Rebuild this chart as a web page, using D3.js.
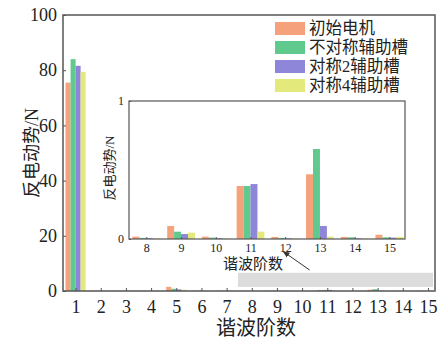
<!DOCTYPE html>
<html>
<head>
<meta charset="utf-8">
<script src="https://cdn.jsdelivr.net/npm/d3@7"></script>
<style>
  html, body { margin: 0; padding: 0; background: #fff; }
  svg { display: block; }
  text { font-family: "Liberation Serif", "Noto Sans CJK SC", serif; fill: #222; }
</style>
</head>
<body>
<script>
// Harmonic orders and back-EMF amplitude (N) per motor design
const harmonics = [1, 2, 3, 4, 5, 6, 7, 8, 9, 10, 11, 12, 13, 14, 15];
const seriesNames = ["初始电机", "不对称辅助槽", "对称2辅助槽", "对称4辅助槽"];
const seriesColors = ["#f5a27c", "#5fc98e", "#8e86d8", "#e4e97c"];
const initialMotor = [75.5, 0.10, 0.08, 0.10, 1.50, 0.10, 0.10, 0.017, 0.094, 0.017, 0.384, 0.015, 0.469, 0.015, 0.031];
const asymSlots    = [84.0, 0.05, 0.05, 0.05, 0.80, 0.05, 0.05, 0.008, 0.053, 0.010, 0.384, 0.008, 0.652, 0.012, 0.012];
const sym2Slots    = [81.6, 0.04, 0.04, 0.04, 0.60, 0.04, 0.04, 0.005, 0.036, 0.006, 0.398, 0.005, 0.094, 0.005, 0.010];
const sym4Slots    = [79.4, 0.03, 0.03, 0.03, 0.50, 0.03, 0.03, 0.004, 0.046, 0.004, 0.053, 0.003, 0.017, 0.004, 0.015];
const mainYTicks = [0, 20, 40, 60, 80, 100];
const insetHarmonics = [8, 9, 10, 11, 12, 13, 14, 15];
const insetYTicks = [0, 1];

const series = [initialMotor, asymSlots, sym2Slots, sym4Slots];
const W = 443, H = 343;
const svg = d3.select("body").append("svg").attr("width", W).attr("height", H);

const frameColor = "#555";
const barW = 0.2; // bar width in harmonic units

// ---------- main chart ----------
const mx = d3.scaleLinear().domain([0.5, 15.28]).range([63, 435]);
const my = d3.scaleLinear().domain([0, 100]).range([291, 15]);

// highlighted zoom region
svg.append("rect")
  .attr("x", mx(7.45)).attr("y", my(6.6))
  .attr("width", mx(15.2) - mx(7.45)).attr("height", my(1.5) - my(6.6))
  .attr("fill", "#dcdcdc");

const mainG = svg.append("g");
series.forEach((vals, si) => {
  mainG.selectAll(null).data(harmonics).enter().append("rect")
    .attr("x", (h) => mx(h - 0.4 + si * barW))
    .attr("width", mx(barW) - mx(0))
    .attr("y", (h, i) => my(vals[i]))
    .attr("height", (h, i) => my(0) - my(vals[i]))
    .attr("fill", seriesColors[si]);
});

// main axes
const xAxis = d3.axisBottom(mx).tickValues(harmonics).tickSize(-3).tickPadding(8).tickFormat(d3.format("d"));
const gx = svg.append("g").attr("transform", `translate(0,${my(0)})`).call(xAxis);
gx.selectAll("text").attr("font-size", 18).attr("dy", "0.75em");
const yAxis = d3.axisLeft(my).tickValues(mainYTicks).tickSize(-3).tickPadding(6).tickFormat(d3.format("d"));
const gy = svg.append("g").attr("transform", `translate(${mx.range()[0]},0)`).call(yAxis);
gy.selectAll("text").attr("font-size", 18);
[gx, gy].forEach(g => {
  g.select(".domain").remove();
  g.selectAll("line").attr("stroke", frameColor);
});
svg.append("rect")
  .attr("x", 63).attr("y", 15).attr("width", 435 - 63).attr("height", 291 - 15)
  .attr("fill", "none").attr("stroke", frameColor).attr("stroke-width", 1.5);

svg.append("text").attr("x", 256).attr("y", 335).attr("text-anchor", "middle")
  .attr("font-size", 20).text("谐波阶数");
svg.append("text").attr("transform", "translate(38,153) rotate(-90)")
  .attr("text-anchor", "middle").attr("font-size", 18).text("反电动势/N");

// legend
const legend = svg.append("g").attr("transform", "translate(275,21)");
seriesNames.forEach((name, i) => {
  const row = legend.append("g").attr("transform", `translate(0,${i * 19})`);
  row.append("rect").attr("width", 30).attr("height", 13).attr("y", 1).attr("fill", seriesColors[i]);
  row.append("text").attr("x", 34).attr("y", 7.5).attr("dy", "0.36em")
    .attr("font-size", 16.5).text(name);
});

// ---------- inset: harmonics 8–15 ----------
const ix = d3.scaleLinear().domain([7.5, 15.45]).range([129, 405]);
const iy = d3.scaleLinear().domain([0, 1]).range([239, 101]);
const insetG = svg.append("g");
series.forEach((vals, si) => {
  insetG.selectAll(null).data(insetHarmonics).enter().append("rect")
    .attr("x", (h) => ix(h - 0.4 + si * barW))
    .attr("width", ix(7.5 + barW) - ix(7.5))
    .attr("y", (h) => iy(vals[harmonics.indexOf(h)]))
    .attr("height", (h) => iy(0) - iy(vals[harmonics.indexOf(h)]))
    .attr("fill", seriesColors[si]);
});
const ixAxis = d3.axisBottom(ix).tickValues(insetHarmonics).tickSize(-2).tickPadding(4).tickFormat(d3.format("d"));
const igx = svg.append("g").attr("transform", `translate(0,${iy(0)})`).call(ixAxis);
igx.selectAll("text").attr("font-size", 12).attr("dy", "0.75em");
const iyAxis = d3.axisLeft(iy).tickValues(insetYTicks).tickSize(-2).tickPadding(5).tickFormat(d3.format("d"));
const igy = svg.append("g").attr("transform", `translate(${ix.range()[0]},0)`).call(iyAxis);
igy.selectAll("text").attr("font-size", 12);
[igx, igy].forEach(g => {
  g.select(".domain").remove();
  g.selectAll("line").attr("stroke", frameColor);
});
svg.append("rect")
  .attr("x", 129).attr("y", 101).attr("width", 405 - 129).attr("height", 239 - 101)
  .attr("fill", "none").attr("stroke", frameColor).attr("stroke-width", 1.2);
svg.append("text").attr("x", 253).attr("y", 269).attr("text-anchor", "middle")
  .attr("font-size", 15).text("谐波阶数");
svg.append("text").attr("transform", "translate(114,168) rotate(-90)")
  .attr("text-anchor", "middle").attr("font-size", 13).text("反电动势/N");

// pointer from the highlighted region to the inset
svg.append("defs").append("marker")
  .attr("id", "head").attr("viewBox", "0 0 10 10").attr("refX", 9).attr("refY", 5)
  .attr("markerWidth", 7).attr("markerHeight", 7).attr("orient", "auto")
  .append("path").attr("d", "M0,1 L10,5 L0,9 Z").attr("fill", "#333");
svg.append("line")
  .attr("x1", mx(10.3)).attr("y1", my(7.6))
  .attr("x2", mx(9.25)).attr("y2", my(14.3))
  .attr("stroke", "#333").attr("stroke-width", 1)
  .attr("marker-end", "url(#head)");
</script>
</body>
</html>
